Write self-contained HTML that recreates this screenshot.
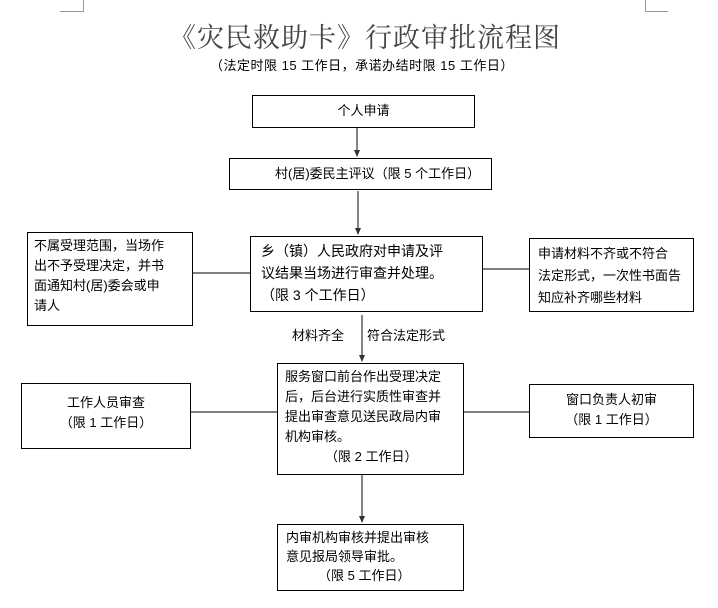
<!DOCTYPE html>
<html><head><meta charset="utf-8"><style>
body{margin:0;background:#fff;width:718px;height:608px;position:relative;overflow:hidden;font-family:"Liberation Sans","Noto Sans CJK SC",sans-serif;color:#000}
.b{position:absolute;border:1.3px solid #000;box-sizing:border-box;font-size:13px;line-height:20px;background:#fff}
.t{position:absolute;white-space:nowrap}
</style></head><body>
<svg width="718" height="608" style="position:absolute;left:0;top:0">
<g stroke="#999" stroke-width="1" fill="none">
<path d="M83.5 0V11.5H60"/><path d="M645.5 0V11.5H668"/>
</g>
<g stroke="#333" stroke-width="1.2" fill="none">
<line x1="357" y1="127" x2="357" y2="156"/>
<line x1="358" y1="191" x2="358" y2="234"/>
<line x1="193" y1="273" x2="250" y2="273"/>
<line x1="483" y1="269" x2="529" y2="269"/>
<line x1="362" y1="315" x2="362" y2="361"/>
<line x1="191" y1="412" x2="277" y2="412"/>
<line x1="464" y1="412" x2="529" y2="412"/>
<line x1="362" y1="475" x2="362" y2="522"/>
</g>
<g fill="#333">
<path d="M354 150L357 157L360 150Z"/><path d="M355 228L358 235L361 228Z"/>
<path d="M359 355L362 362L365 355Z"/><path d="M359 516L362 523L365 516Z"/>
</g>
</svg>
<div class="t" style="left:169px;top:16px;font-size:27px;font-family:'Liberation Serif','Noto Serif CJK SC',serif;color:#444;letter-spacing:1px">《灾民救助卡》行政审批流程图</div>
<div class="t" style="left:210px;top:55px;font-size:13px;letter-spacing:0.5px">（法定时限 15 工作日，承诺办结时限 15 工作日）</div>
<div class="b" style="left:252px;top:95px;width:223px;height:33px;text-align:center;padding-top:5px">个人申请</div>
<div class="b" style="left:229px;top:158px;width:263px;height:32px;padding:5px 0 0 45px">村(居)委民主评议（限 5 个工作日）</div>
<div class="b" style="left:27px;top:232px;width:166px;height:94px;padding:3px 0 0 6px">不属受理范围，当场作<br>出不予受理决定，并书<br>面通知村(居)委会或申<br>请人</div>
<div class="b" style="left:250px;top:236px;width:233px;height:76px;padding:3px 0 0 10px;font-size:14px;line-height:22px">乡（镇）人民政府对申请及评<br>议结果当场进行审查并处理。<br>（限 3 个工作日）</div>
<div class="b" style="left:529px;top:238px;width:165px;height:74px;padding:4px 0 0 8px;line-height:22px">申请材料不齐或不符合<br>法定形式，一次性书面告<br>知应补齐哪些材料</div>
<div class="t" style="left:292px;top:325px;font-size:13px">材料齐全</div>
<div class="t" style="left:367px;top:325px;font-size:13px">符合法定形式</div>
<div class="b" style="left:21px;top:383px;width:170px;height:66px;text-align:center;padding-top:9px">工作人员审查<br>（限 1 工作日）</div>
<div class="b" style="left:277px;top:363px;width:187px;height:112px;padding:3px 0 0 7px">服务窗口前台作出受理决定<br>后，后台进行实质性审查并<br>提出审查意见送民政局内审<br>机构审核。<br><span style="padding-left:40px">（限 2 工作日）</span></div>
<div class="b" style="left:529px;top:384px;width:165px;height:54px;text-align:center;padding-top:5px">窗口负责人初审<br>（限 1 工作日）</div>
<div class="b" style="left:277px;top:524px;width:187px;height:67px;padding:3px 0 0 8px;line-height:19px">内审机构审核并提出审核<br>意见报局领导审批。<br><span style="padding-left:32px">（限 5 工作日）</span></div>
</body></html>
